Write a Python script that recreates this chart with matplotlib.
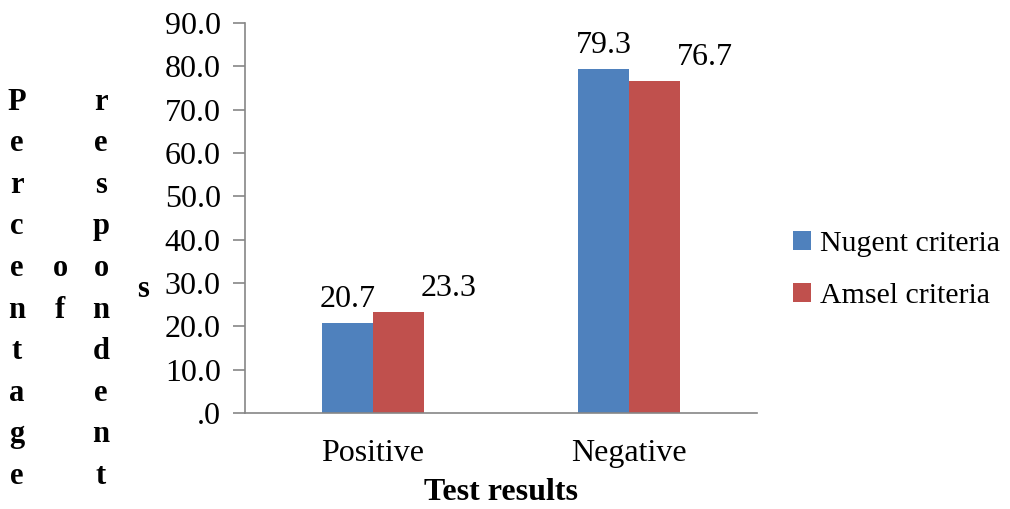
import matplotlib.pyplot as plt
from matplotlib.ticker import FuncFormatter
import numpy as np

# dados do grafico
categorias = ["Positive", "Negative"]
nugent = [20.7, 79.3]
amsel = [23.3, 76.7]
series = ["Nugent criteria", "Amsel criteria"]
cores = ["#4F81BD", "#C0504D"]
yticks = [0, 10, 20, 30, 40, 50, 60, 70, 80, 90]
palavras_ylabel = ["Percentage", "of", "respondent", "s"]

plt.rcParams['font.family'] = ['Liberation Serif', 'DejaVu Serif']
tam = 23

fig = plt.figure(figsize=(10.1, 5.09), dpi=100)
ax = fig.add_axes([245 / 1010, 1 - 413 / 509, 512 / 1010, 390 / 509])

x = np.arange(len(categorias))
largura = 0.2
barras_n = ax.bar(x - largura / 2, nugent, largura, color=cores[0], label=series[0])
barras_a = ax.bar(x + largura / 2, amsel, largura, color=cores[1], label=series[1])

# rotulos de valores (o Excel deslocou os vermelhos para a direita)
for barras, vals, dx in [(barras_n, nugent, 0), (barras_a, amsel, 36)]:
    for b, v in zip(barras, vals):
        ax.annotate(f"{v:.1f}", (b.get_x() + b.get_width() / 2, v),
                    xytext=(dx, 17), textcoords="offset points",
                    ha="center", va="center", fontsize=tam)

ax.set_xlim(-0.5, 1.5)
ax.set_ylim(0, 90)
ax.set_yticks(yticks)
ax.yaxis.set_major_formatter(FuncFormatter(lambda v, p: f"{v:.1f}".lstrip("0") if v < 1 else f"{v:.1f}"))
ax.set_xticks(x)
ax.set_xticklabels(categorias)
ax.tick_params(axis="y", direction="out", length=8.5, width=1.2, color="#868686", labelsize=tam, pad=9)
ax.tick_params(axis="x", length=0, labelsize=tam, pad=19)

for s in ["top", "right"]:
    ax.spines[s].set_visible(False)
for s in ["left", "bottom"]:
    ax.spines[s].set_color("#868686")
    ax.spines[s].set_linewidth(1.2)

ax.set_xlabel("Test results", fontsize=tam, fontweight="bold", labelpad=7)

# rotulo do eixo y em letras empilhadas
colunas_x = [17, 60, 101, 143]
linha_inicial = [0, 4, 0, 4.5]
passo = 41.6
for palavra, cx, l0 in zip(palavras_ylabel, colunas_x, linha_inicial):
    for i, letra in enumerate(palavra):
        yy = 102 + (l0 + i) * passo
        fig.text(cx / 1010, 1 - yy / 509, letra, ha="center", va="center",
                 fontsize=22, fontweight="bold")

fig.legend(handles=[barras_n, barras_a], loc="center left",
           bbox_to_anchor=(793 / 1010, 1 - 270 / 509), frameon=False,
           fontsize=21.5, handlelength=0.6, handleheight=0.6, borderpad=0,
           borderaxespad=0, handletextpad=0.3, labelspacing=0.85)

fig.savefig("out.png", dpi=100)
